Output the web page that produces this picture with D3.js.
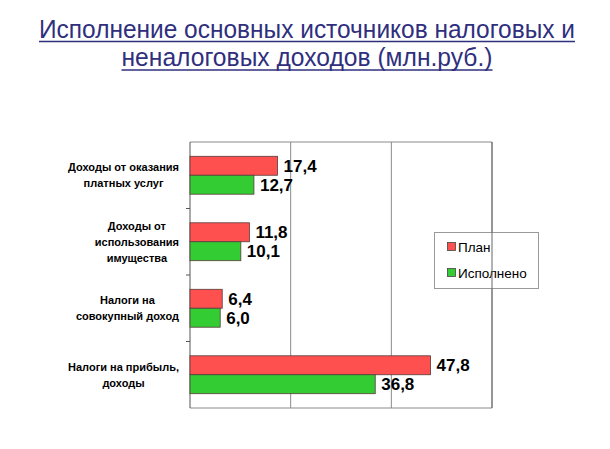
<!DOCTYPE html>
<head>
  <meta charset="utf-8">
  <script src="https://d3js.org/d3.v7.min.js"></script>
  <style>
    body { margin:0; background:#fff; }
    text { font-family: "Liberation Sans", Arial, sans-serif; }
  </style>
</head>
<body>
<script>
var categories = [
  ["Доходы от оказания", "платных услуг"],
  ["Доходы от", "использования", "имущества"],
  ["Налоги на", "совокупный доход"],
  ["Налоги на прибыль,", "доходы"]
];
var series = ["План", "Исполнено"];
var planValues = [17.4, 11.8, 6.4, 47.8];
var doneValues = [12.7, 10.1, 6.0, 36.8];
var titleLines = ["Исполнение основных источников налоговых и", "неналоговых доходов (млн.руб.)"];
var xTicks = [20, 40, 60];

var colors = {"План": "#ff5050", "Исполнено": "#33cc33"};

var svg = d3.select("body").append("svg")
  .attr("width", 610)
  .attr("height", 449);

var plot = {left: 190, right: 492, top: 142, bottom: 408};

// title
var titleColor = "#2f2f7e";
var titleY = [37.5, 66], titleW = [536, 371], titleX = 307;
titleLines.forEach(function(t, i) {
  svg.append("text")
    .attr("x", titleX).attr("y", titleY[i])
    .attr("text-anchor", "middle")
    .attr("textLength", titleW[i])
    .attr("lengthAdjust", "spacingAndGlyphs")
    .style("font-size", "25px")
    .style("fill", titleColor)
    .text(t);
  svg.append("line")
    .attr("x1", titleX - titleW[i] / 2).attr("x2", titleX + titleW[i] / 2)
    .attr("y1", titleY[i] + 4).attr("y2", titleY[i] + 4)
    .attr("stroke", titleColor).attr("stroke-width", 1.5);
});

var keys = categories.map(function(c) { return c.join(" "); });

var x = d3.scaleLinear().domain([0, 60]).range([plot.left, plot.right]);
var y = d3.scaleBand().domain(keys).range([plot.top, plot.bottom])
  .paddingInner(0.43).paddingOuter(0.215);
var ySub = d3.scaleBand().domain(series).range([0, y.bandwidth()]);

// gridlines
svg.selectAll(".grid").data(xTicks).enter().append("line")
  .attr("x1", function(d) { return x(d); }).attr("x2", function(d) { return x(d); })
  .attr("y1", plot.top).attr("y2", plot.bottom)
  .attr("stroke", "#8a8a8a").attr("stroke-width", 1);

// frame top & bottom
svg.append("line").attr("x1", plot.left).attr("x2", plot.right)
  .attr("y1", plot.top).attr("y2", plot.top).attr("stroke", "#8a8a8a");
svg.append("line").attr("x1", plot.left).attr("x2", plot.right)
  .attr("y1", plot.bottom).attr("y2", plot.bottom).attr("stroke", "#8a8a8a");

// left axis with boundary ticks
var step = y.step();
var bounds = d3.range(1, keys.length).map(function(i) { return plot.top + i * step; });
svg.append("line").attr("x1", plot.left).attr("x2", plot.left)
  .attr("y1", plot.top).attr("y2", plot.bottom).attr("stroke", "#555");
svg.selectAll(".tk").data(bounds).enter().append("line")
  .attr("x1", plot.left - 4).attr("x2", plot.left)
  .attr("y1", function(d) { return d; }).attr("y2", function(d) { return d; })
  .attr("stroke", "#555");

var rows = [];
keys.forEach(function(k, i) {
  rows.push({cat: k, s: "План", v: planValues[i]});
  rows.push({cat: k, s: "Исполнено", v: doneValues[i]});
});

svg.selectAll(".bar").data(rows).enter().append("rect")
  .attr("x", x(0))
  .attr("y", function(d) { return y(d.cat) + ySub(d.s); })
  .attr("width", function(d) { return x(d.v) - x(0); })
  .attr("height", ySub.bandwidth())
  .attr("fill", function(d) { return colors[d.s]; })
  .attr("stroke", "#5a3a3a").attr("stroke-width", 0.8);

svg.selectAll(".val").data(rows).enter().append("text")
  .attr("x", function(d) { return x(d.v) + 6; })
  .attr("y", function(d) { return y(d.cat) + ySub(d.s) + ySub.bandwidth() / 2 + 6; })
  .style("font-size", "17px").style("font-weight", "bold").style("fill", "#000")
  .text(function(d) { return d3.format(".1f")(d.v).replace(".", ","); });

// category labels, centered lines, widest line ends at x=179
categories.forEach(function(lines, i) {
  var g = svg.append("g");
  var cy = y(keys[i]) + y.bandwidth() / 2;
  var lh = 16;
  var ts = lines.map(function(l, j) {
    return g.append("text")
      .attr("y", cy + (j - (lines.length - 1) / 2) * lh + 4)
      .attr("text-anchor", "middle")
      .style("font-size", "11px").style("font-weight", "bold").style("fill", "#000")
      .text(l);
  });
  var maxW = d3.max(ts, function(t) { return t.node().getComputedTextLength(); });
  ts.forEach(function(t) { t.attr("x", 179 - maxW / 2); });
});

// legend
var lg = svg.append("g");
lg.append("rect").attr("x", 434.5).attr("y", 232.5).attr("width", 104).attr("height", 56)
  .attr("fill", "#fff").attr("stroke", "#999");
series.forEach(function(s, i) {
  var ly = 247 + i * 26;
  lg.append("rect").attr("x", 447.5).attr("y", ly - 4.5).attr("width", 8).attr("height", 8)
    .attr("fill", colors[s]).attr("stroke", "#444").attr("stroke-width", 0.8);
  lg.append("text").attr("x", 458).attr("y", ly + 4.5)
    .style("font-size", "13.5px").style("fill", "#000").text(s);
});

// right border drawn over legend
svg.append("line").attr("x1", plot.right).attr("x2", plot.right)
  .attr("y1", plot.top).attr("y2", plot.bottom).attr("stroke", "#666");
</script>
</body>
